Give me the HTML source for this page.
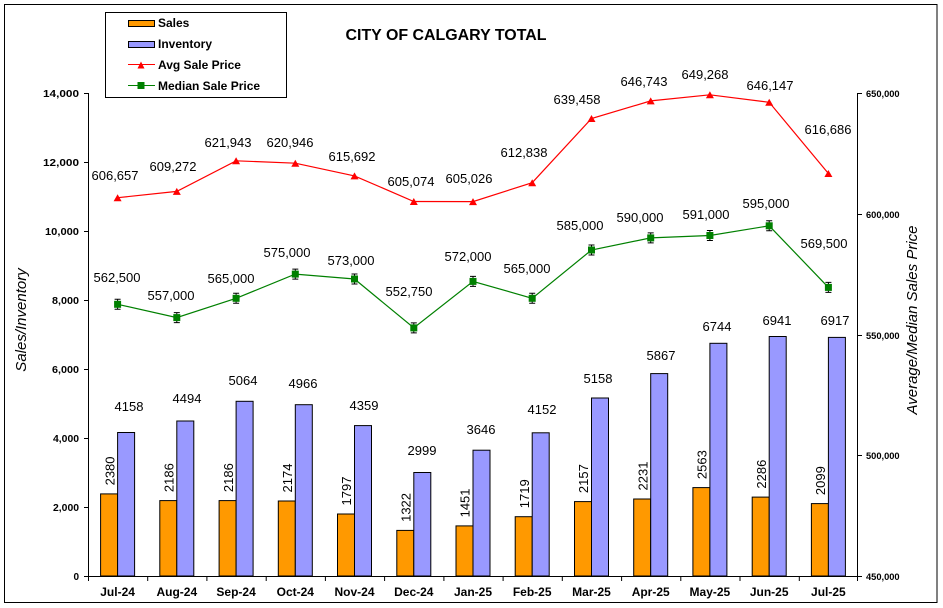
<!DOCTYPE html>
<html><head><meta charset="utf-8"><style>
html,body{margin:0;padding:0;background:#fff;}
svg{display:block;}
text{font-family:"Liberation Sans",Arial,sans-serif;fill:#000;}
.tl{font-size:10px;font-weight:bold;}
.tr{font-size:9.3px;font-weight:bold;}
.cat{font-size:12px;font-weight:bold;}
.dl{font-size:13px;}
.lg{font-size:12px;font-weight:bold;}
</style></head><body>
<svg width="943" height="608" viewBox="0 0 943 608" xmlns="http://www.w3.org/2000/svg">
<rect x="0" y="0" width="943" height="608" fill="#fff"/>
<rect x="4.5" y="4.5" width="932.5" height="598" fill="none" stroke="#000" stroke-width="1"/>

<text x="446" y="40" text-anchor="middle" font-size="16" font-weight="bold" textLength="201" lengthAdjust="spacingAndGlyphs">CITY OF CALGARY TOTAL</text>

<!-- Legend -->
<rect x="105.5" y="12.5" width="181" height="85" fill="#fff" stroke="#000" stroke-width="1"/>
<rect x="128.5" y="20.5" width="26" height="6" fill="#FF9900" stroke="#000" stroke-width="1"/>
<text class="lg" x="158" y="27">Sales</text>
<rect x="128.5" y="41.5" width="26" height="6" fill="#9999FF" stroke="#000" stroke-width="1"/>
<text class="lg" x="158" y="48">Inventory</text>
<line x1="128" y1="64.5" x2="155" y2="64.5" stroke="#FF0000" stroke-width="1"/>
<polygon points="137.5,68.5 144.5,68.5 141,61.5" fill="#FF0000"/>
<text class="lg" x="158" y="69">Avg Sale Price</text>
<line x1="128" y1="85.5" x2="155" y2="85.5" stroke="#008000" stroke-width="1"/>
<rect x="137.5" y="82" width="7" height="7" fill="#008000"/>
<text class="lg" x="158" y="90">Median Sale Price</text>

<!-- Axes -->
<line x1="88.5" y1="93" x2="88.5" y2="576" stroke="#000" stroke-width="1"/>
<line x1="857.5" y1="93" x2="857.5" y2="576" stroke="#000" stroke-width="1"/>
<line x1="88" y1="576.5" x2="858" y2="576.5" stroke="#000" stroke-width="1"/>
<g stroke="#000" stroke-width="1">
<line x1="84" y1="93.5" x2="88" y2="93.5"/>
<line x1="84" y1="162.5" x2="88" y2="162.5"/>
<line x1="84" y1="231.5" x2="88" y2="231.5"/>
<line x1="84" y1="300.5" x2="88" y2="300.5"/>
<line x1="84" y1="369.5" x2="88" y2="369.5"/>
<line x1="84" y1="438.5" x2="88" y2="438.5"/>
<line x1="84" y1="507.5" x2="88" y2="507.5"/>
<line x1="84" y1="576.5" x2="88" y2="576.5"/>
<line x1="858" y1="93.5" x2="862" y2="93.5"/>
<line x1="858" y1="214.5" x2="862" y2="214.5"/>
<line x1="858" y1="335.5" x2="862" y2="335.5"/>
<line x1="858" y1="455.5" x2="862" y2="455.5"/>
<line x1="858" y1="576.5" x2="862" y2="576.5"/>
<line x1="88.5" y1="576" x2="88.5" y2="581"/>
<line x1="147.7" y1="576" x2="147.7" y2="581"/>
<line x1="206.9" y1="576" x2="206.9" y2="581"/>
<line x1="266.2" y1="576" x2="266.2" y2="581"/>
<line x1="325.4" y1="576" x2="325.4" y2="581"/>
<line x1="384.6" y1="576" x2="384.6" y2="581"/>
<line x1="443.9" y1="576" x2="443.9" y2="581"/>
<line x1="503.1" y1="576" x2="503.1" y2="581"/>
<line x1="562.3" y1="576" x2="562.3" y2="581"/>
<line x1="621.6" y1="576" x2="621.6" y2="581"/>
<line x1="680.8" y1="576" x2="680.8" y2="581"/>
<line x1="740.0" y1="576" x2="740.0" y2="581"/>
<line x1="799.3" y1="576" x2="799.3" y2="581"/>
<line x1="857.5" y1="576" x2="857.5" y2="581"/>
</g>
<g class="tl" text-anchor="end">
<text class="tl" x="79" y="97" textLength="36" lengthAdjust="spacingAndGlyphs">14,000</text>
<text class="tl" x="79" y="166" textLength="36" lengthAdjust="spacingAndGlyphs">12,000</text>
<text class="tl" x="79" y="235" textLength="34" lengthAdjust="spacingAndGlyphs">10,000</text>
<text class="tl" x="79" y="304" textLength="27" lengthAdjust="spacingAndGlyphs">8,000</text>
<text class="tl" x="79" y="373" textLength="27" lengthAdjust="spacingAndGlyphs">6,000</text>
<text class="tl" x="79" y="442" textLength="26" lengthAdjust="spacingAndGlyphs">4,000</text>
<text class="tl" x="79" y="511" textLength="26" lengthAdjust="spacingAndGlyphs">2,000</text>
<text class="tl" x="79" y="580">0</text>
</g>
<g>
<text class="tr" x="866" y="97">650,000</text>
<text class="tr" x="866" y="218">600,000</text>
<text class="tr" x="866" y="339">550,000</text>
<text class="tr" x="866" y="459">500,000</text>
<text class="tr" x="866" y="580">450,000</text>
</g>
<text x="26" y="320" transform="rotate(-90 26 320)" text-anchor="middle" font-size="15" font-style="italic">Sales/Inventory</text>
<text x="917" y="320" transform="rotate(-90 917 320)" text-anchor="middle" font-size="15" font-style="italic">Average/Median Sales Price</text>

<!-- Category labels -->
<g class="cat" text-anchor="middle">
<text class="cat" x="117.6" y="596">Jul-24</text>
<text class="cat" x="176.8" y="596">Aug-24</text>
<text class="cat" x="236.1" y="596">Sep-24</text>
<text class="cat" x="295.3" y="596">Oct-24</text>
<text class="cat" x="354.5" y="596">Nov-24</text>
<text class="cat" x="413.8" y="596">Dec-24</text>
<text class="cat" x="473.0" y="596">Jan-25</text>
<text class="cat" x="532.2" y="596">Feb-25</text>
<text class="cat" x="591.5" y="596">Mar-25</text>
<text class="cat" x="650.7" y="596">Apr-25</text>
<text class="cat" x="709.9" y="596">May-25</text>
<text class="cat" x="769.2" y="596">Jun-25</text>
<text class="cat" x="828.4" y="596">Jul-25</text>
</g>

<!-- Bars -->
<g stroke="#000" stroke-width="1">
<rect x="100.6" y="493.9" width="17" height="82.1" fill="#FF9900"/>
<rect x="117.6" y="432.5" width="17" height="143.5" fill="#9999FF"/>
<rect x="159.8" y="500.6" width="17" height="75.4" fill="#FF9900"/>
<rect x="176.8" y="421.0" width="17" height="155.0" fill="#9999FF"/>
<rect x="219.1" y="500.6" width="17" height="75.4" fill="#FF9900"/>
<rect x="236.1" y="401.3" width="17" height="174.7" fill="#9999FF"/>
<rect x="278.3" y="501.0" width="17" height="75.0" fill="#FF9900"/>
<rect x="295.3" y="404.7" width="17" height="171.3" fill="#9999FF"/>
<rect x="337.5" y="514.0" width="17" height="62.0" fill="#FF9900"/>
<rect x="354.5" y="425.6" width="17" height="150.4" fill="#9999FF"/>
<rect x="396.8" y="530.4" width="17" height="45.6" fill="#FF9900"/>
<rect x="413.8" y="472.5" width="17" height="103.5" fill="#9999FF"/>
<rect x="456.0" y="525.9" width="17" height="50.1" fill="#FF9900"/>
<rect x="473.0" y="450.2" width="17" height="125.8" fill="#9999FF"/>
<rect x="515.2" y="516.7" width="17" height="59.3" fill="#FF9900"/>
<rect x="532.2" y="432.8" width="17" height="143.2" fill="#9999FF"/>
<rect x="574.5" y="501.6" width="17" height="74.4" fill="#FF9900"/>
<rect x="591.5" y="398.0" width="17" height="178.0" fill="#9999FF"/>
<rect x="633.7" y="499.0" width="17" height="77.0" fill="#FF9900"/>
<rect x="650.7" y="373.6" width="17" height="202.4" fill="#9999FF"/>
<rect x="692.9" y="487.6" width="17" height="88.4" fill="#FF9900"/>
<rect x="709.9" y="343.3" width="17" height="232.7" fill="#9999FF"/>
<rect x="752.2" y="497.1" width="17" height="78.9" fill="#FF9900"/>
<rect x="769.2" y="336.5" width="17" height="239.5" fill="#9999FF"/>
<rect x="811.4" y="503.6" width="17" height="72.4" fill="#FF9900"/>
<rect x="828.4" y="337.4" width="17" height="238.6" fill="#9999FF"/>
</g>

<!-- Avg line -->
<polyline fill="none" stroke="#FF0000" stroke-width="1.2" points="117.6,197.7 176.8,191.4 236.1,160.8 295.3,163.2 354.5,175.9 413.8,201.5 473.0,201.6 532.2,182.7 591.5,118.5 650.7,100.9 709.9,94.8 769.2,102.3 828.4,173.5"/>
<g fill="#FF0000">
<polygon points="113.6,201.2 121.6,201.2 117.6,194.2"/>
<polygon points="172.8,194.9 180.8,194.9 176.8,187.9"/>
<polygon points="232.1,164.3 240.1,164.3 236.1,157.3"/>
<polygon points="291.3,166.7 299.3,166.7 295.3,159.7"/>
<polygon points="350.5,179.4 358.5,179.4 354.5,172.4"/>
<polygon points="409.8,205.0 417.8,205.0 413.8,198.0"/>
<polygon points="469.0,205.1 477.0,205.1 473.0,198.1"/>
<polygon points="528.2,186.2 536.2,186.2 532.2,179.2"/>
<polygon points="587.5,122.0 595.5,122.0 591.5,115.0"/>
<polygon points="646.7,104.4 654.7,104.4 650.7,97.4"/>
<polygon points="705.9,98.3 713.9,98.3 709.9,91.3"/>
<polygon points="765.2,105.8 773.2,105.8 769.2,98.8"/>
<polygon points="824.4,177.0 832.4,177.0 828.4,170.0"/>
</g>

<!-- Median line -->
<polyline fill="none" stroke="#008000" stroke-width="1.2" points="117.6,304.3 176.8,317.6 236.1,298.3 295.3,274.1 354.5,279.0 413.8,327.9 473.0,281.4 532.2,298.3 591.5,250.0 650.7,237.9 709.9,235.5 769.2,225.8 828.4,287.4"/>
<g stroke="#000" stroke-width="1" fill="none">
<path d="M117.6,299.3V309.3M114.6,299.3H120.6M114.6,309.3H120.6"/>
<path d="M176.8,312.6V322.6M173.8,312.6H179.8M173.8,322.6H179.8"/>
<path d="M236.1,293.3V303.3M233.1,293.3H239.1M233.1,303.3H239.1"/>
<path d="M295.3,269.1V279.1M292.3,269.1H298.3M292.3,279.1H298.3"/>
<path d="M354.5,274.0V284.0M351.5,274.0H357.5M351.5,284.0H357.5"/>
<path d="M413.8,322.9V332.9M410.8,322.9H416.8M410.8,332.9H416.8"/>
<path d="M473.0,276.4V286.4M470.0,276.4H476.0M470.0,286.4H476.0"/>
<path d="M532.2,293.3V303.3M529.2,293.3H535.2M529.2,303.3H535.2"/>
<path d="M591.5,245.0V255.0M588.5,245.0H594.5M588.5,255.0H594.5"/>
<path d="M650.7,232.9V242.9M647.7,232.9H653.7M647.7,242.9H653.7"/>
<path d="M709.9,230.5V240.5M706.9,230.5H712.9M706.9,240.5H712.9"/>
<path d="M769.2,220.8V230.8M766.2,220.8H772.2M766.2,230.8H772.2"/>
<path d="M828.4,282.4V292.4M825.4,282.4H831.4M825.4,292.4H831.4"/>
</g>
<g fill="#008000">
<rect x="114.1" y="300.8" width="7" height="7"/>
<rect x="173.3" y="314.1" width="7" height="7"/>
<rect x="232.6" y="294.8" width="7" height="7"/>
<rect x="291.8" y="270.6" width="7" height="7"/>
<rect x="351.0" y="275.5" width="7" height="7"/>
<rect x="410.3" y="324.4" width="7" height="7"/>
<rect x="469.5" y="277.9" width="7" height="7"/>
<rect x="528.7" y="294.8" width="7" height="7"/>
<rect x="588.0" y="246.5" width="7" height="7"/>
<rect x="647.2" y="234.4" width="7" height="7"/>
<rect x="706.4" y="232.0" width="7" height="7"/>
<rect x="765.7" y="222.3" width="7" height="7"/>
<rect x="824.9" y="283.9" width="7" height="7"/>
</g>

<!-- Avg labels -->
<g text-anchor="middle">
<text class="dl" x="115" y="180">606,657</text>
<text class="dl" x="173" y="171">609,272</text>
<text class="dl" x="228" y="147">621,943</text>
<text class="dl" x="290" y="147">620,946</text>
<text class="dl" x="352" y="161">615,692</text>
<text class="dl" x="411" y="186">605,074</text>
<text class="dl" x="469" y="183">605,026</text>
<text class="dl" x="524" y="157">612,838</text>
<text class="dl" x="577" y="104">639,458</text>
<text class="dl" x="644" y="86">646,743</text>
<text class="dl" x="705" y="79">649,268</text>
<text class="dl" x="770" y="90">646,147</text>
<text class="dl" x="828" y="134">616,686</text>
</g>
<!-- Median labels -->
<g text-anchor="middle">
<text class="dl" x="117" y="282">562,500</text>
<text class="dl" x="171" y="300">557,000</text>
<text class="dl" x="231" y="283">565,000</text>
<text class="dl" x="287" y="257">575,000</text>
<text class="dl" x="351" y="265">573,000</text>
<text class="dl" x="409" y="296">552,750</text>
<text class="dl" x="468" y="261">572,000</text>
<text class="dl" x="527" y="273">565,000</text>
<text class="dl" x="580" y="230">585,000</text>
<text class="dl" x="640" y="222">590,000</text>
<text class="dl" x="706" y="219">591,000</text>
<text class="dl" x="766" y="208">595,000</text>
<text class="dl" x="824" y="248">569,500</text>
</g>
<!-- Inventory labels -->
<g text-anchor="middle">
<text class="dl" x="129" y="411">4158</text>
<text class="dl" x="187" y="403">4494</text>
<text class="dl" x="243" y="385">5064</text>
<text class="dl" x="303" y="388">4966</text>
<text class="dl" x="364" y="410">4359</text>
<text class="dl" x="422" y="455">2999</text>
<text class="dl" x="481" y="434">3646</text>
<text class="dl" x="542" y="414">4152</text>
<text class="dl" x="598" y="383">5158</text>
<text class="dl" x="661" y="360">5867</text>
<text class="dl" x="717" y="331">6744</text>
<text class="dl" x="777" y="325">6941</text>
<text class="dl" x="835" y="325">6917</text>
</g>
<!-- Sales labels (rotated) -->
<g>
<text class="dl" transform="translate(114.3,485.4) rotate(-90)">2380</text>
<text class="dl" transform="translate(173.5,492.1) rotate(-90)">2186</text>
<text class="dl" transform="translate(232.8,492.1) rotate(-90)">2186</text>
<text class="dl" transform="translate(292.0,492.5) rotate(-90)">2174</text>
<text class="dl" transform="translate(351.2,505.5) rotate(-90)">1797</text>
<text class="dl" transform="translate(410.5,521.9) rotate(-90)">1322</text>
<text class="dl" transform="translate(469.7,517.4) rotate(-90)">1451</text>
<text class="dl" transform="translate(528.9,508.2) rotate(-90)">1719</text>
<text class="dl" transform="translate(588.2,493.1) rotate(-90)">2157</text>
<text class="dl" transform="translate(647.4,490.5) rotate(-90)">2231</text>
<text class="dl" transform="translate(706.6,479.1) rotate(-90)">2563</text>
<text class="dl" transform="translate(765.9,488.6) rotate(-90)">2286</text>
<text class="dl" transform="translate(825.1,495.1) rotate(-90)">2099</text>
</g>
</svg>
</body></html>
